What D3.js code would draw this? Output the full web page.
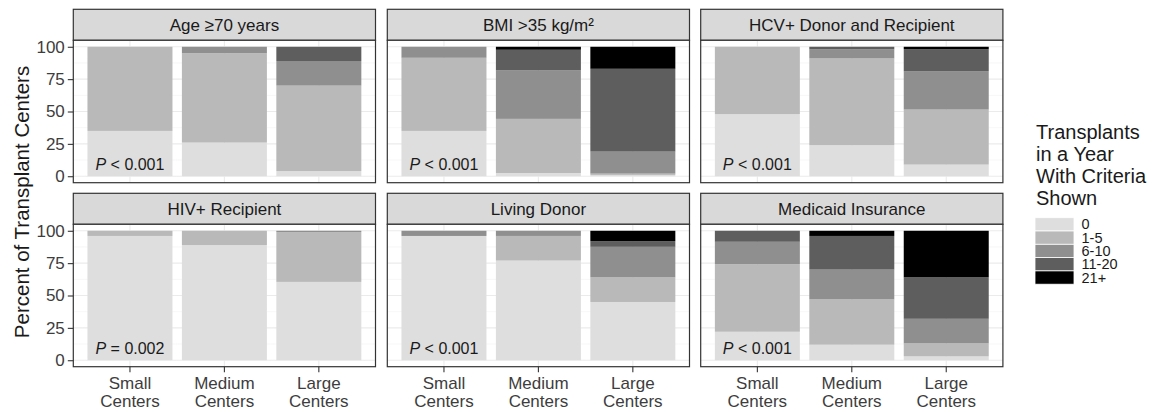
<!DOCTYPE html>
<html><head><meta charset="utf-8">
<script src="https://cdn.jsdelivr.net/npm/d3@7"></script>
<style>body{margin:0;background:#fff}svg{display:block;font-family:"Liberation Sans",Arial,sans-serif}</style>
</head><body><svg id="c" width="1165" height="412"></svg>
<script>
const categories = ["Small Centers", "Medium Centers", "Large Centers"];
const levels = ["0", "1-5", "6-10", "11-20", "21+"];
const levelColors = ["#dedede", "#b9b9b9", "#8f8f8f", "#5e5e5e", "#000000"];
const panelTitles = ["Age ≥70 years", "BMI >35 kg/m²", "HCV+ Donor and Recipient", "HIV+ Recipient", "Living Donor", "Medicaid Insurance"];
const pLabels = [["P", " < 0.001"], ["P", " < 0.001"], ["P", " < 0.001"], ["P", " = 0.002"], ["P", " < 0.001"], ["P", " < 0.001"]];
const yTicks = [0, 25, 50, 75, 100];
const legendTitle = ["Transplants", "in a Year", "With Criteria", "Shown"];
const yTitle = "Percent of Transplant Centers";

// percent of centers per level [0, 1-5, 6-10, 11-20, 21+] for Small, Medium, Large
const ageValues      = [[35, 65, 0, 0, 0], [26, 69, 5, 0, 0], [4, 66, 19, 11, 0]];
const bmiValues      = [[35, 56.5, 8.5, 0, 0], [2.5, 41.8, 37.4, 16, 2.3], [1, 1, 17, 64, 17]];
const hcvValues      = [[48, 52, 0, 0, 0], [24, 67, 7, 2, 0], [9, 42.5, 29.7, 17, 1.8]];
const hivValues      = [[96, 4, 0, 0, 0], [89, 11, 0, 0, 0], [60.5, 38.5, 1, 0, 0]];
const livingValues   = [[96, 0, 4, 0, 0], [77, 19, 4, 0, 0], [45, 19, 23.6, 4.4, 8]];
const medicaidValues = [[22, 52.2, 17.3, 8.5, 0], [12, 35, 23, 26, 4], [3, 10, 19, 32, 36]];
const panelValues = [ageValues, bmiValues, hcvValues, hivValues, livingValues, medicaidValues];

const svg = d3.select("#c");
const colX = [73.3, 387.3, 700.7], panelW = 302.2;
const rowY = [9.3, 193.3], stripH = 31, plotH = 142.4;

const x = d3.scaleBand().domain(categories).range([0, panelW]).paddingInner(0.1).paddingOuter(0.15);
const y = d3.scaleLinear().domain([-5, 105]).range([plotH, 0]);

panelTitles.forEach((title, pi) => {
  const col = pi % 3, row = Math.floor(pi / 3);
  const g = svg.append("g").attr("transform", `translate(${colX[col]},${rowY[row]})`);
  g.append("rect").attr("x", 0).attr("y", 0).attr("width", panelW).attr("height", stripH)
    .attr("fill", "#d9d9d9").attr("stroke", "#333").attr("stroke-width", 1.2);
  g.append("text").attr("x", panelW / 2).attr("y", stripH / 2 + 6).attr("text-anchor", "middle")
    .attr("font-size", 17).attr("fill", "#1a1a1a").text(title);
  const p = g.append("g").attr("transform", `translate(0,${stripH})`);
  p.append("rect").attr("width", panelW).attr("height", plotH).attr("fill", "#fff");
  const minor = [12.5, 37.5, 62.5, 87.5];
  p.selectAll(".gm").data(minor).join("line").attr("x1", 0).attr("x2", panelW)
    .attr("y1", d => y(d)).attr("y2", d => y(d)).attr("stroke", "#f2f2f2").attr("stroke-width", 0.6);
  p.selectAll(".gM").data(yTicks).join("line").attr("x1", 0).attr("x2", panelW)
    .attr("y1", d => y(d)).attr("y2", d => y(d)).attr("stroke", "#ebebeb").attr("stroke-width", 1.1);
  p.selectAll(".gx").data(categories).join("line")
    .attr("x1", d => x(d) + x.bandwidth() / 2).attr("x2", d => x(d) + x.bandwidth() / 2)
    .attr("y1", 0).attr("y2", plotH).attr("stroke", "#ebebeb").attr("stroke-width", 1.1);
  panelValues[pi].forEach((vals, ci) => {
    let cum = 0;
    vals.forEach((v, li) => {
      if (v <= 0) return;
      p.append("rect").attr("x", x(categories[ci])).attr("width", x.bandwidth())
        .attr("y", y(cum + v)).attr("height", y(cum) - y(cum + v)).attr("fill", levelColors[li]);
      cum += v;
    });
  });
  const t = p.append("text").attr("x", x(categories[0]) + x.bandwidth() / 2).attr("y", y(4.5))
    .attr("text-anchor", "middle").attr("font-size", 16).attr("fill", "#1a1a1a");
  t.append("tspan").attr("font-style", "italic").text(pLabels[pi][0]);
  t.append("tspan").text(pLabels[pi][1]);
  p.append("rect").attr("width", panelW).attr("height", plotH).attr("fill", "none")
    .attr("stroke", "#333").attr("stroke-width", 1.2);
  if (col === 0) {
    const ya = p.append("g").call(d3.axisLeft(y).tickValues(yTicks).tickSize(5.5).tickPadding(3));
    ya.select(".domain").remove();
    ya.selectAll(".tick line").attr("stroke", "#333").attr("stroke-width", 1.1);
    ya.selectAll(".tick text").attr("font-size", 17).attr("fill", "#3d3d3d")
      .attr("font-family", "Liberation Sans, Arial, sans-serif");
  }
  if (row === 1) {
    const xa = p.append("g").attr("transform", `translate(0,${plotH})`)
      .call(d3.axisBottom(x).tickSize(5.5).tickFormat(""));
    xa.select(".domain").remove();
    xa.selectAll(".tick line").attr("stroke", "#333").attr("stroke-width", 1.1);
    xa.selectAll(".tick").each(function(d) {
      const words = d.split(" ");
      const tt = d3.select(this).append("text").attr("text-anchor", "middle")
        .attr("font-size", 17).attr("fill", "#3d3d3d")
        .attr("font-family", "Liberation Sans, Arial, sans-serif");
      words.forEach((w, i) => tt.append("tspan").attr("x", 0).attr("y", 22 + i * 18.5).text(w));
    });
  }
});

svg.append("text").attr("transform", "translate(29,202) rotate(-90)").attr("text-anchor", "middle")
  .attr("font-size", 20.5).attr("fill", "#1a1a1a").text(yTitle);

const lg = svg.append("g").attr("transform", "translate(1036,0)");
legendTitle.forEach((s, i) => lg.append("text").attr("x", 0).attr("y", 138.5 + i * 22.3)
  .attr("font-size", 20).attr("fill", "#1a1a1a").text(s));
const keyH = 13.3, keyTop = 217.7;
levels.forEach((l, i) => {
  lg.append("rect").attr("x", -1).attr("y", keyTop + i * keyH).attr("width", 39).attr("height", keyH)
    .attr("fill", levelColors[i]).attr("stroke", "#fff").attr("stroke-width", 0.8);
  lg.append("text").attr("x", 45.5).attr("y", keyTop + i * keyH + keyH / 2 + 5)
    .attr("font-size", 14.5).attr("fill", "#1a1a1a").text(l);
});
</script></body></html>
